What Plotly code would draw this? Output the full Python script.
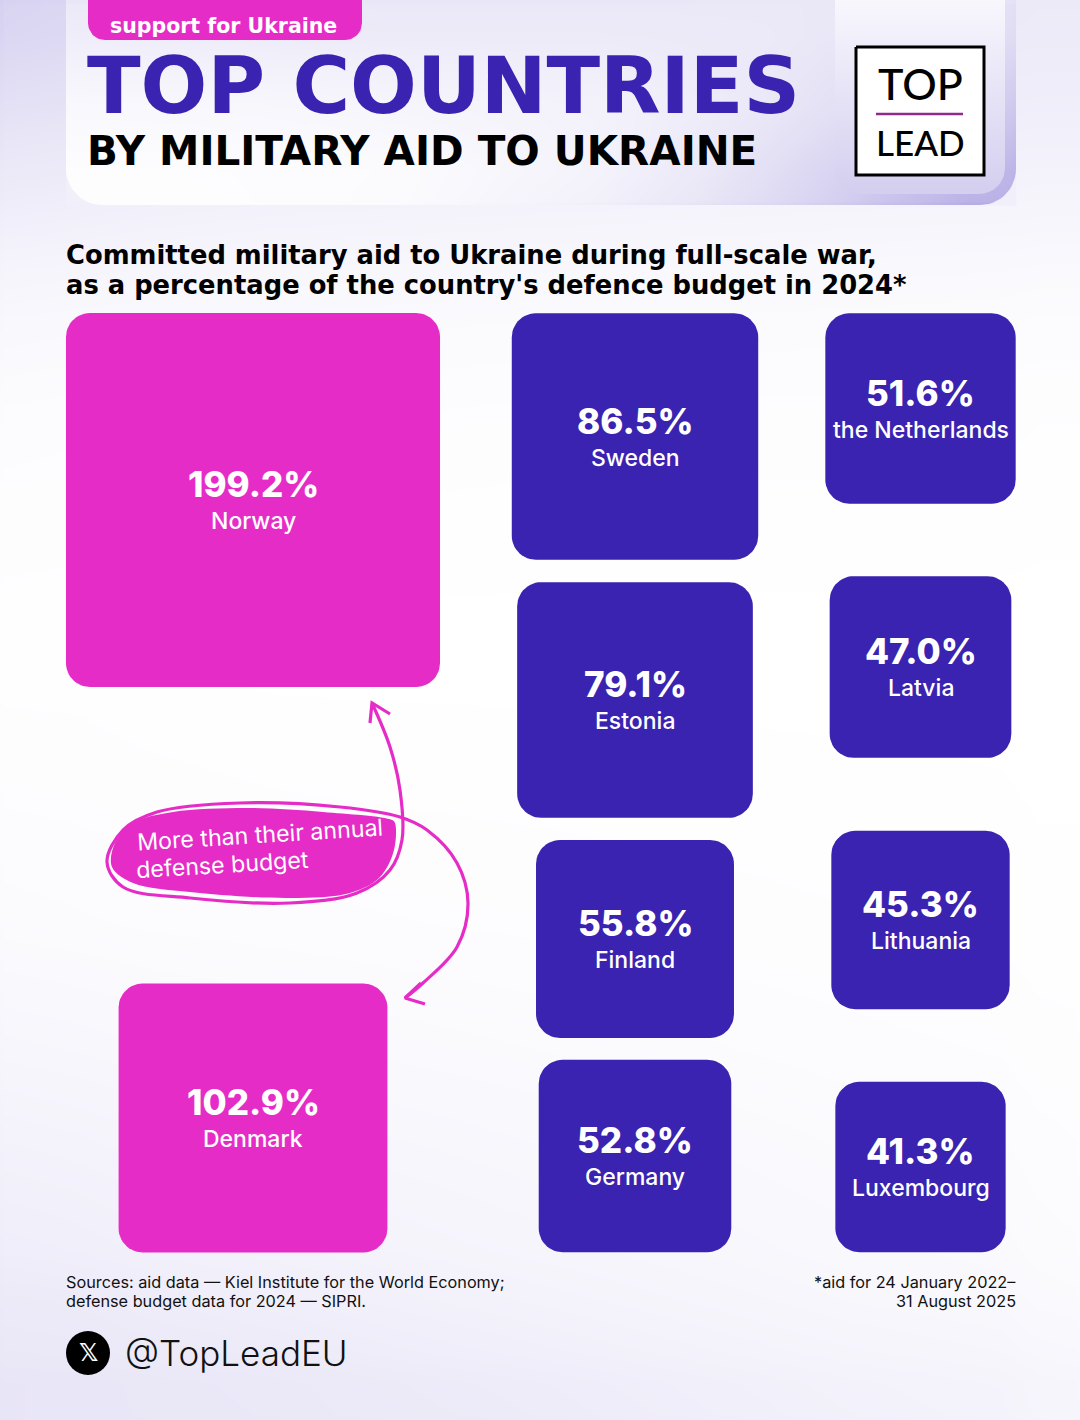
import numpy as np
import plotly.graph_objects as go

# Data
countries = ["Norway", "Denmark", "Sweden", "Estonia", "Finland", "Germany",
             "the Netherlands", "Latvia", "Lithuania", "Luxembourg"]
aid_pct = [199.2, 102.9, 86.5, 79.1, 55.8, 52.8, 51.6, 47.0, 45.3, 41.3]

# Where each square sits, and the area scale (square area is the value)
center_x = [253, 253, 635, 635, 635, 635, 920.5, 920.5, 920.5, 920.5]
center_y = [500, 1118, 436.5, 700, 939, 1156, 408.5, 667, 920, 1167]
box_color = ["#e62cc7", "#e62cc7"] + ["#3a23b0"] * 8
side_per_sqrt = 26.5

PINK = "#e62cc7"
BLUE = "#3a23b0"
FONT = "Inter"
WIDE = "DejaVu Sans"
lavender = [[0, "#ffffff"], [1, "#b5abe4"]]


def round_rect(x0, y0, x1, y1, r):
    # outline of a rounded box, going clockwise
    t = np.linspace(0, np.pi / 2, 14)
    xs = np.concatenate([x1 - r + r * np.sin(t), x1 - r + r * np.cos(t),
                         x0 + r - r * np.sin(t), x0 + r - r * np.cos(t), [x1 - r]])
    ys = np.concatenate([y0 + r - r * np.cos(t), y1 - r + r * np.sin(t),
                         y1 - r + r * np.cos(t), y0 + r - r * np.sin(t), [y0]])
    return xs, ys


def blob(xs, ys, color, shape="linear"):
    return go.Scatter(x=xs, y=ys, mode="lines", fill="toself", fillcolor=color,
                      line=dict(width=0, color=color, shape=shape), hoverinfo="skip")


def stroke(xs, ys, width=3.2, shape="spline"):
    return go.Scatter(x=xs, y=ys, mode="lines", hoverinfo="skip",
                      line=dict(color=PINK, width=width, shape=shape, smoothing=1.0))


fig = go.Figure()

# page background
fig.add_trace(go.Heatmap(
    x=[0, 4, 150, 400, 700, 1000, 1076, 1080],
    y=[0, 4, 60, 130, 220, 320, 500, 800, 1050, 1250, 1350, 1416, 1420],
    z=[[.57, .50, .36, .30, .27, .25, .25],
       [.52, .46, .34, .28, .25, .24, .24],
       [.40, .36, .28, .24, .22, .21, .21],
       [.27, .24, .20, .18, .16, .15, .15],
       [.14, .12, .10, .09, .08, .07, .07],
       [.05, .04, .04, .03, .03, .02, .02],
       [.01, .01, .00, .00, .00, .00, .00],
       [.06, .05, .04, .03, .02, .01, .01],
       [.17, .15, .12, .09, .06, .04, .03],
       [.26, .24, .20, .15, .10, .07, .06],
       [.31, .30, .27, .22, .16, .12, .11],
       [.31, .30, .28, .24, .18, .13, .12]],
    colorscale=lavender, zmin=0, zmax=1, zsmooth="best", showscale=False, hoverinfo="skip"))

# header card
fig.add_trace(go.Heatmap(
    x=[66, 70, 300, 500, 700, 835, 930, 1010, 1016],
    y=[0, 4, 70, 140, 201, 205],
    z=[[.30, .30, .30, .30, .28, .28, .32, .35],
       [.20, .22, .24, .24, .26, .32, .40, .42],
       [.08, .09, .12, .16, .28, .45, .60, .65],
       [.03, .03, .05, .15, .38, .65, .85, .90],
       [.02, .02, .06, .20, .46, .75, .98, 1.0]],
    colorscale=lavender, zmin=0, zmax=1, zsmooth="best", showscale=False, hoverinfo="skip"))

# bottom corners of the card are cut back to page colour
t = np.linspace(0, np.pi / 2, 14)
rc = 36
fig.add_trace(blob(np.r_[66, 66 + rc - rc * np.cos(t), 66], np.r_[206, 205 - rc + rc * np.sin(t), 206], "#f1f0fa"))
fig.add_trace(blob(np.r_[1016.5, 1016 - rc + rc * np.cos(t), 1016.5], np.r_[206, 205 - rc + rc * np.sin(t), 206], "#f1f0fa"))

# lighter panel behind the logo
px, py = round_rect(835, -40, 1005, 194, 26)
fig.add_trace(go.Scatter(x=px, y=py, mode="lines", fill="toself", line=dict(width=0), hoverinfo="skip",
                         fillgradient=dict(type="vertical", start=0, stop=194,
                                           colorscale=[[0, "#f8f7fd"], [1, "#d4ceef"]])))

# logo
lx, ly = [856, 984, 984, 856, 856], [47, 47, 175, 175, 47]
fig.add_trace(go.Scatter(x=lx, y=ly, mode="lines", fill="toself", fillcolor="#ffffff",
                         line=dict(color="#000000", width=3), hoverinfo="skip"))
fig.add_trace(go.Scatter(x=[876, 963], y=[114, 114], mode="lines",
                         line=dict(color="#8e2a8e", width=2.5), hoverinfo="skip"))

# tag on top
tx, ty = round_rect(88, -40, 362, 40, 17)
fig.add_trace(blob(tx, ty, PINK))

# squares, side from the value
for name, val, cx, cy, col in zip(countries, aid_pct, center_x, center_y, box_color):
    half = side_per_sqrt * np.sqrt(val) / 2
    xs, ys = round_rect(cx - half, cy - half, cx + half, cy + half, 24)
    fig.add_trace(blob(xs, ys, col))

# hand drawn callout
fig.add_trace(blob(
    [395, 394, 380, 350, 290, 190, 133, 112, 115, 133, 173, 247, 323, 392, 395],
    [823, 850, 877, 893, 898, 892, 883, 867, 843, 823, 812, 808, 812, 820, 823],
    PINK, shape="spline"))
fig.add_trace(stroke(
    [372, 390, 400, 402, 390, 357, 290, 190, 123, 107, 123, 157, 240, 340, 400, 427, 457, 468, 457, 423, 405],
    [703, 747, 790, 840, 870, 893, 903, 898, 887, 862, 830, 812, 803, 807, 817, 830, 863, 903, 947, 983, 998]))
fig.add_trace(stroke([370, 372, 390], [723, 703, 714], shape="linear"))
fig.add_trace(stroke([421, 405, 425], [983, 998, 1004], shape="linear"))

# x badge
fig.add_trace(go.Scatter(x=[88], y=[1353], mode="markers", hoverinfo="skip",
                         marker=dict(size=44, color="#000000", line=dict(width=0))))


def label(x, y, text, size, color="#000000", weight=400, anchor="center", angle=0, family=FONT):
    fig.add_annotation(x=x, y=y, text=text, showarrow=False, xanchor=anchor, yanchor="middle",
                       textangle=angle, font=dict(family=family, size=size, color=color, weight=weight))


for name, val, cx, cy in zip(countries, aid_pct, center_x, center_y):
    label(cx, cy - 16, f"{val:.1f}%", 35, "#ffffff", 800)
    label(cx, cy + 21, name, 23, "#ffffff", 500)

label(108, 26, "support for Ukraine", 20.5, "#ffffff", 700, "left", family=WIDE)
label(85, 85.5, "TOP COUNTRIES", 78.6, BLUE, 700, "left", family=WIDE)
label(85, 150.5, "BY MILITARY AID TO UKRAINE", 40.5, "#000000", 700, "left", family=WIDE)
label(920.5, 83, "TOP", 43, "#000000", 500, family="Lato")
label(920, 142, "LEAD", 35, "#000000", 500, family="Lato")
label(64, 255, "Committed military aid to Ukraine during full-scale war,", 25.8, "#000000", 700, "left", family=WIDE)
label(64, 285, "as a percentage of the country's defence budget in 2024*", 25.8, "#000000", 700, "left", family=WIDE)
label(260, 835, "More than their annual", 23.2, "#ffffff", 400, angle=-3.5)
label(222, 865, "defense budget", 23.2, "#ffffff", 400, angle=-3.5)
label(64, 1282, "Sources: aid data — Kiel Institute for the World Economy;", 16.25, "#111111", 400, "left")
label(64, 1301, "defense budget data for 2024 — SIPRI.", 16.25, "#111111", 400, "left")
label(1018, 1282, "*aid for 24 January 2022–", 16.25, "#111111", 400, "right")
label(1018, 1301, "31 August 2025", 16.25, "#111111", 400, "right")
label(88, 1353, "𝕏", 24, "#ffffff", 700, family=WIDE)
label(123, 1353, "@TopLeadEU", 35, "#111111", 300, "left")

fig.update_layout(
    width=1080, height=1420, margin=dict(l=0, r=0, t=0, b=0),
    paper_bgcolor="#ffffff", plot_bgcolor="#ffffff", showlegend=False,
    xaxis=dict(range=[0, 1080], visible=False, fixedrange=True),
    yaxis=dict(range=[1420, 0], visible=False, fixedrange=True),
)

fig.write_html("out.html", config=dict(displayModeBar=False),
               post_script="document.body.style.margin='0';")
